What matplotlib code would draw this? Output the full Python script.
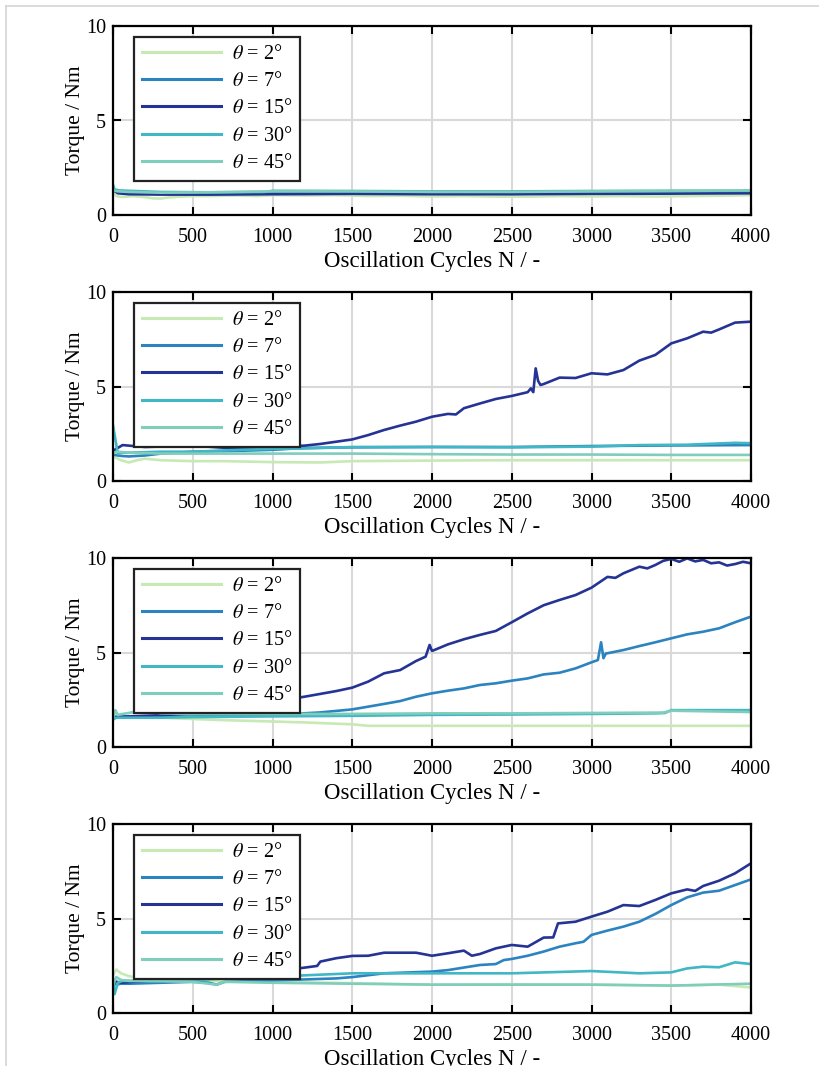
import matplotlib
matplotlib.use("Agg")
import matplotlib.pyplot as plt
from matplotlib.lines import Line2D

plt.rcParams["font.family"] = ["Liberation Serif", "DejaVu Serif"]
plt.rcParams["mathtext.fontset"] = "stix"

# Legend labels and line colours (one per oscillation angle)
angles = [2, 7, 15, 30, 45]
colors = ["#c7e9b4", "#2b83c0", "#253494", "#41b6c4", "#7fcdbb"]

# ---------- Test 1 ----------
t1_2_n = [0, 20, 60, 120, 200, 250, 300, 350, 400, 500, 600, 700, 800, 900, 1000, 1200, 1400,
          1600, 1800, 2000, 2200, 2400, 2600, 2800, 3000, 3200, 3400, 3600, 3800, 4000]
t1_2_m = [1.25, 1.0, 0.95, 1.0, 0.95, 0.88, 0.87, 0.93, 0.96, 1.0, 1.0, 1.02, 1.03, 1.0, 1.05, 1.03,
          1.05, 1.0, 1.02, 0.98, 1.0, 0.97, 0.97, 1.0, 0.98, 1.0, 0.98, 1.0, 1.02, 1.05]
t1_7_n = [0, 30, 100, 300, 600, 1000, 1500, 2000, 2500, 3000, 3500, 4000]
t1_7_m = [1.3, 1.2, 1.15, 1.12, 1.12, 1.15, 1.15, 1.15, 1.12, 1.15, 1.18, 1.2]
t1_15_n = [0, 30, 100, 300, 600, 1000, 1500, 2000, 2500, 3000, 3500, 4000]
t1_15_m = [1.35, 1.15, 1.1, 1.08, 1.08, 1.1, 1.12, 1.1, 1.1, 1.12, 1.13, 1.15]
t1_30_n = [0, 10, 40, 100, 300, 600, 950, 1000, 1500, 2000, 2500, 3000, 3500, 4000]
t1_30_m = [1.6, 1.35, 1.3, 1.28, 1.22, 1.2, 1.22, 1.28, 1.27, 1.25, 1.25, 1.27, 1.28, 1.28]
t1_45_n = [0, 30, 100, 300, 600, 1000, 1500, 2000, 2500, 3000, 3500, 4000]
t1_45_m = [1.3, 1.25, 1.22, 1.18, 1.2, 1.25, 1.25, 1.22, 1.22, 1.25, 1.27, 1.3]

# ---------- Test 2 ----------
t2_2_n = [0, 50, 100, 150, 200, 300, 500, 700, 1000, 1300, 1500, 2000, 2500, 3000, 3500, 4000]
t2_2_m = [1.3, 1.1, 0.98, 1.1, 1.18, 1.1, 1.05, 1.05, 1.0, 0.98, 1.05, 1.08, 1.1, 1.1, 1.1, 1.1]
t2_7_n = [0, 30, 60, 100, 200, 300, 500, 800, 1000, 1200, 1500, 2000, 2500, 3000, 3500, 4000]
t2_7_m = [1.4, 1.35, 1.32, 1.3, 1.35, 1.45, 1.55, 1.6, 1.65, 1.75, 1.78, 1.8, 1.8, 1.85, 1.88, 1.9]
t2_15_n = [0, 30, 60, 200, 500, 800, 1000, 1200, 1300, 1400, 1500, 1600, 1700, 1800, 1900, 2000,
           2100, 2150, 2200, 2300, 2400, 2500, 2600, 2620, 2635, 2650, 2665, 2680, 2700, 2800, 2900,
           3000, 3100, 3200, 3300, 3400, 3500, 3600, 3700, 3750, 3800, 3900, 4000]
t2_15_m = [1.6, 1.75, 1.9, 1.8, 1.87, 1.7, 1.8, 1.87, 1.96, 2.08, 2.2, 2.43, 2.7, 2.93, 3.14, 3.4,
           3.55, 3.52, 3.85, 4.1, 4.34, 4.5, 4.7, 4.9, 4.7, 5.96, 5.3, 5.08, 5.13, 5.47, 5.45,
           5.7, 5.64, 5.87, 6.37, 6.67, 7.28, 7.55, 7.9, 7.85, 8.02, 8.38, 8.43]
t2_30_n = [0, 15, 30, 60, 100, 300, 500, 800, 1000, 1200, 1500, 2000, 2500, 3000, 3300, 3600, 3900, 4000]
t2_30_m = [2.95, 2.2, 1.45, 1.5, 1.5, 1.55, 1.55, 1.65, 1.7, 1.72, 1.8, 1.8, 1.78, 1.82, 1.9, 1.92, 2.02, 2.0]
t2_45_n = [0, 30, 100, 300, 500, 1000, 1500, 2000, 2500, 3000, 3500, 4000]
t2_45_m = [1.5, 1.55, 1.5, 1.45, 1.45, 1.45, 1.45, 1.42, 1.4, 1.4, 1.38, 1.38]

# ---------- Test 3 ----------
t3_2_n = [0, 100, 300, 500, 700, 1000, 1200, 1500, 1600, 2000, 2500, 3000, 3500, 4000]
t3_2_m = [1.55, 1.6, 1.55, 1.48, 1.42, 1.35, 1.3, 1.2, 1.12, 1.12, 1.12, 1.12, 1.12, 1.12]
t3_7_n = [0, 100, 300, 500, 800, 1000, 1300, 1500, 1700, 1800, 1900, 2000, 2100, 2200, 2300, 2400,
          2500, 2600, 2700, 2800, 2900, 3000, 3040, 3060, 3075, 3090, 3100, 3200, 3300, 3400,
          3500, 3600, 3700, 3800, 3900, 4000]
t3_7_m = [1.55, 1.6, 1.6, 1.62, 1.65, 1.69, 1.83, 1.99, 2.28, 2.43, 2.66, 2.84, 2.98, 3.1, 3.28, 3.37,
          3.51, 3.63, 3.84, 3.93, 4.16, 4.48, 4.6, 5.54, 4.7, 4.95, 4.96, 5.13, 5.34, 5.54,
          5.75, 5.96, 6.1, 6.28, 6.6, 6.9]
t3_15_n = [0, 100, 300, 500, 700, 800, 1000, 1200, 1400, 1500, 1600, 1700, 1800, 1900, 1960, 1985,
           2000, 2100, 2200, 2300, 2400, 2500, 2600, 2700, 2800, 2900, 3000, 3100, 3150, 3200, 3300,
           3350, 3400, 3450, 3500, 3550, 3600, 3650, 3700, 3750, 3800, 3850, 3900, 3950, 4000]
t3_15_m = [1.6, 1.62, 1.68, 1.78, 1.92, 2.08, 2.4, 2.66, 2.96, 3.14, 3.46, 3.9, 4.07, 4.55, 4.78, 5.4,
           5.08, 5.43, 5.7, 5.93, 6.14, 6.6, 7.07, 7.5, 7.78, 8.04, 8.43, 9.0, 8.95, 9.19, 9.54,
           9.45, 9.63, 9.85, 9.95, 9.8, 9.98, 9.82, 9.9, 9.72, 9.77, 9.6, 9.68, 9.8, 9.72]
t3_30_n = [0, 20, 50, 100, 300, 500, 1000, 1500, 2000, 2500, 3000, 3400, 3460, 3500, 4000]
t3_30_m = [1.45, 1.55, 1.55, 1.55, 1.55, 1.58, 1.62, 1.65, 1.7, 1.72, 1.75, 1.78, 1.8, 1.95, 1.95]
t3_45_n = [0, 15, 30, 60, 100, 180, 250, 300, 500, 1000, 1500, 2000, 2500, 3000, 3450, 3500, 4000]
t3_45_m = [1.5, 1.95, 1.7, 1.75, 1.8, 1.95, 1.85, 1.78, 1.75, 1.75, 1.75, 1.78, 1.78, 1.8, 1.82, 1.92, 1.85]

# ---------- Test 4 ----------
t4_2_n = [0, 20, 50, 100, 200, 500, 1000, 1500, 2000, 2500, 3000, 3500, 3800, 4000]
t4_2_m = [2.0, 2.3, 2.1, 1.95, 1.8, 1.7, 1.65, 1.58, 1.5, 1.52, 1.5, 1.45, 1.5, 1.35]
t4_7_n = [0, 20, 50, 100, 300, 500, 600, 650, 700, 1000, 1400, 1500, 1700, 2000, 2100, 2300, 2400,
          2450, 2500, 2600, 2700, 2800, 2900, 2950, 3000, 3100, 3200, 3300, 3400, 3500, 3600,
          3700, 3800, 3900, 4000]
t4_7_m = [1.6, 1.5, 1.55, 1.55, 1.6, 1.65, 1.6, 1.5, 1.65, 1.72, 1.83, 1.9, 2.1, 2.19, 2.27, 2.54, 2.59,
          2.8, 2.86, 3.03, 3.25, 3.51, 3.69, 3.77, 4.13, 4.36, 4.57, 4.83, 5.24, 5.71, 6.12,
          6.37, 6.47, 6.77, 7.07]
t4_15_n = [0, 50, 200, 500, 700, 900, 1000, 1200, 1280, 1300, 1400, 1500, 1600, 1700, 1800, 1900,
           2000, 2100, 2200, 2250, 2300, 2400, 2500, 2600, 2700, 2760, 2790, 2900, 3000, 3100,
           3200, 3300, 3400, 3500, 3600, 3650, 3700, 3800, 3900, 4000]
t4_15_m = [1.7, 1.6, 1.7, 1.96, 2.06, 2.1, 2.19, 2.4, 2.49, 2.72, 2.9, 3.02, 3.03, 3.19, 3.19, 3.19,
           3.03, 3.16, 3.3, 3.03, 3.12, 3.42, 3.6, 3.51, 3.99, 4.0, 4.74, 4.83, 5.1, 5.36,
           5.71, 5.66, 5.98, 6.33, 6.54, 6.46, 6.72, 7.0, 7.39, 7.92]
t4_30_n = [0, 10, 30, 60, 100, 300, 500, 1000, 1500, 2000, 2500, 3000, 3300, 3500, 3600, 3700, 3800, 3900, 4000]
t4_30_m = [1.7, 1.0, 1.6, 1.7, 1.7, 1.72, 1.75, 1.92, 2.1, 2.1, 2.1, 2.22, 2.1, 2.15, 2.36, 2.45, 2.42, 2.68, 2.59]
t4_45_n = [0, 20, 50, 100, 300, 500, 600, 650, 700, 1000, 1500, 2000, 2500, 3000, 3500, 4000]
t4_45_m = [1.5, 1.9, 1.75, 1.7, 1.68, 1.65, 1.55, 1.5, 1.65, 1.6, 1.55, 1.5, 1.5, 1.5, 1.45, 1.55]

tests = [
    [(t1_2_n, t1_2_m), (t1_7_n, t1_7_m), (t1_15_n, t1_15_m), (t1_30_n, t1_30_m), (t1_45_n, t1_45_m)],
    [(t2_2_n, t2_2_m), (t2_7_n, t2_7_m), (t2_15_n, t2_15_m), (t2_30_n, t2_30_m), (t2_45_n, t2_45_m)],
    [(t3_2_n, t3_2_m), (t3_7_n, t3_7_m), (t3_15_n, t3_15_m), (t3_30_n, t3_30_m), (t3_45_n, t3_45_m)],
    [(t4_2_n, t4_2_m), (t4_7_n, t4_7_m), (t4_15_n, t4_15_m), (t4_30_n, t4_30_m), (t4_45_n, t4_45_m)],
]

x_ticks = [0, 500, 1000, 1500, 2000, 2500, 3000, 3500, 4000]
y_ticks = [0, 5, 10]

W, H = 819, 1066
fig = plt.figure(figsize=(W / 100, H / 100), dpi=100)

# thin page frame along the top and left edges
fig.add_artist(Line2D([6 / W, 1], [1 - 6 / H, 1 - 6 / H], color="#d4d4d4", lw=1.2))
fig.add_artist(Line2D([6 / W, 6 / W], [0, 1 - 6 / H], color="#d4d4d4", lw=1.2))

left, right = 113, 751
tops = [26, 292, 558, 824]
ax_h = 189

for top, series in zip(tops, tests):
    ax = fig.add_axes([left / W, 1 - (top + ax_h) / H, (right - left) / W, ax_h / H])
    for (n, m), ang, c in zip(series, angles, colors):
        ax.plot(n, m, color=c, lw=1.9, label=rf"$\theta$ = {ang}°")
    ax.set_xlim(0, 4000)
    ax.set_ylim(0, 10)
    ax.set_xticks(x_ticks)
    ax.set_yticks(y_ticks)
    ax.grid(True, color="#d9d9d9", lw=1.5)
    ax.set_axisbelow(True)
    ax.tick_params(axis="x", pad=9)
    ax.tick_params(axis="y", pad=5)
    ax.tick_params(direction="in", length=6, width=1.5, top=True, right=True,
                   labelsize=14.5, color="black")
    for s in ax.spines.values():
        s.set_linewidth(1.6)
        s.set_color("black")
    ax.set_xlabel("Oscillation Cycles N / -", fontsize=16.5, labelpad=3)
    ax.set_ylabel("Torque / Nm", fontsize=15.5, labelpad=1)
    leg = ax.legend(loc="upper left", bbox_to_anchor=(21 / (right - left), 1 - 11 / ax_h),
                    borderaxespad=0, fontsize=14.5, fancybox=False, framealpha=1,
                    edgecolor="#222222", handlelength=3.9, labelspacing=0.4,
                    handletextpad=0.55, borderpad=0.4)
    leg.get_frame().set_linewidth(1.6)
    for h in leg.legend_handles:
        h.set_linewidth(2.2)

fig.savefig("out.png", dpi=100)
